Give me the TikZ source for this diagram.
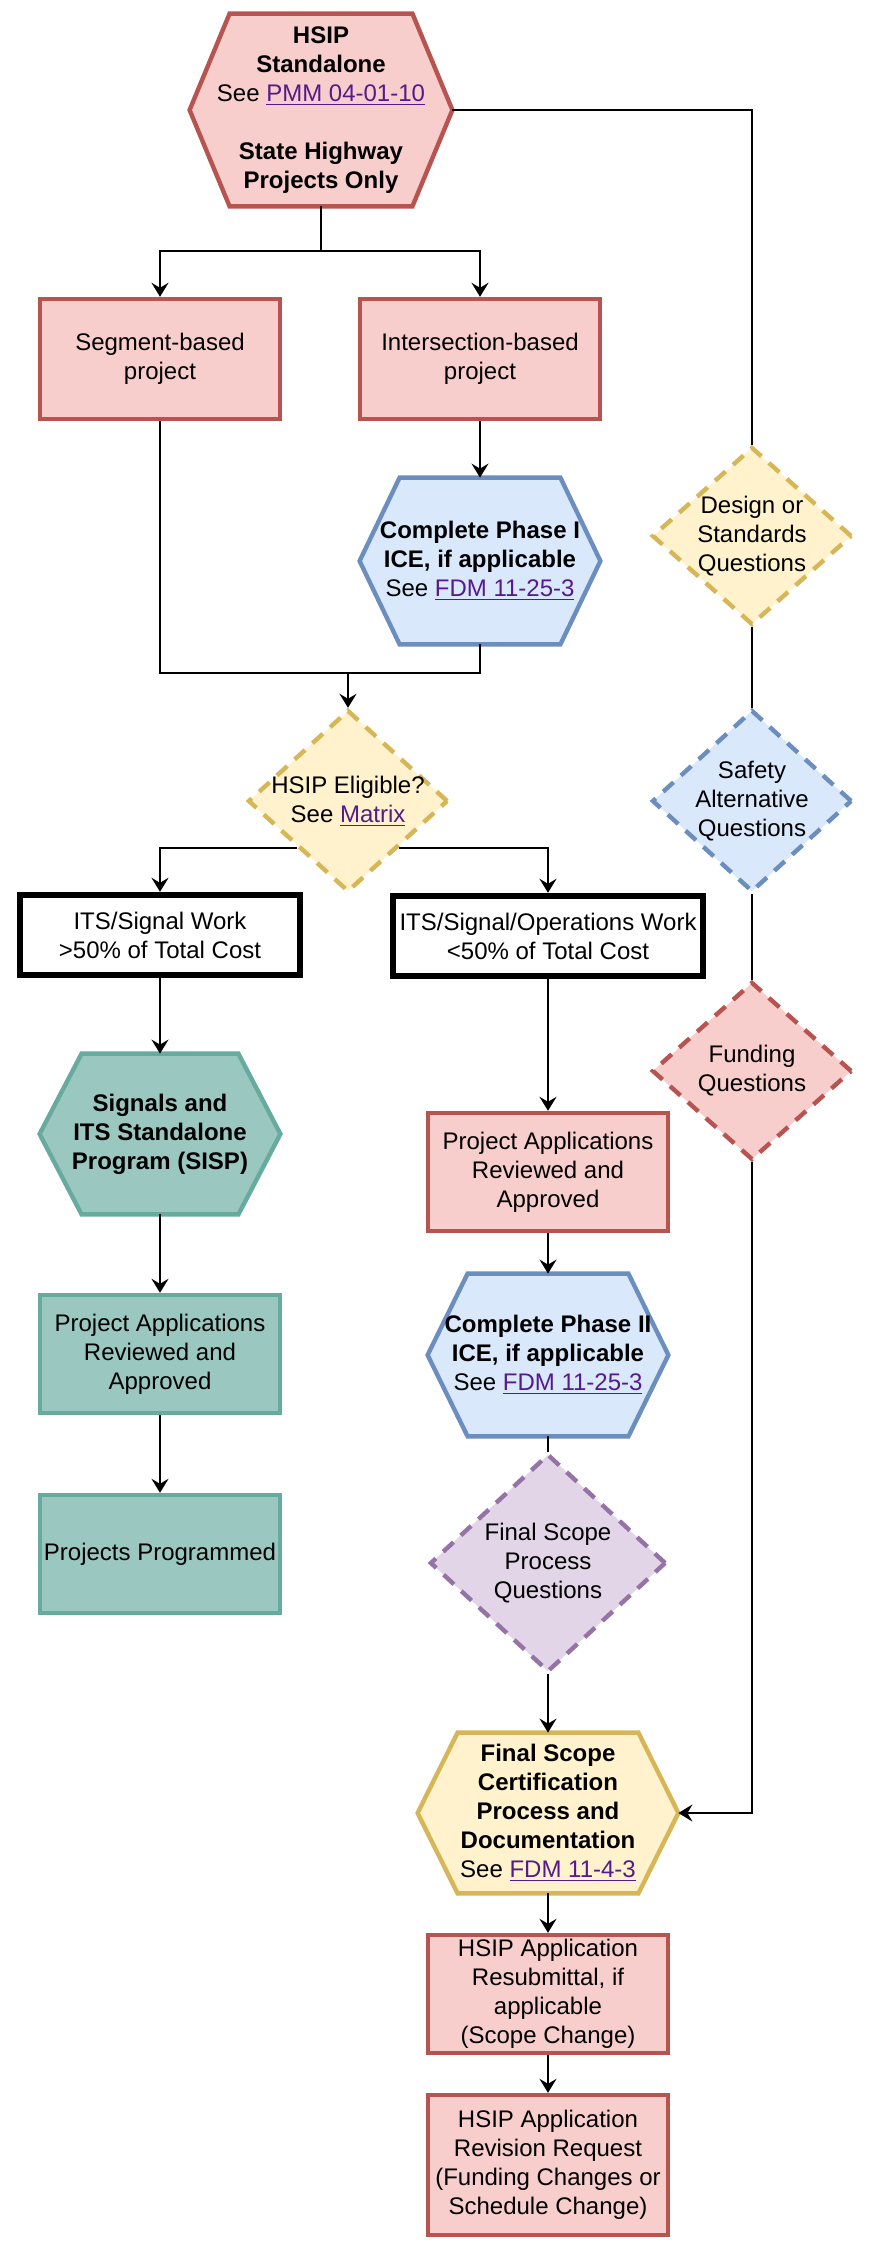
\documentclass[tikz,border=0pt]{standalone}
\usepackage{fontspec}
\setmainfont{Liberation Sans}
\usetikzlibrary{shapes.geometric,arrows.meta,backgrounds}

\definecolor{redfill}{HTML}{F8CECC}
\definecolor{redline}{HTML}{B85450}
\definecolor{bluefill}{HTML}{DAE8FC}
\definecolor{blueline}{HTML}{6C8EBF}
\definecolor{yelfill}{HTML}{FFF2CC}
\definecolor{yelline}{HTML}{D6B656}
\definecolor{purfill}{HTML}{E1D5E7}
\definecolor{purline}{HTML}{9673A6}
\definecolor{grnfill}{HTML}{9AC7BF}
\definecolor{grnline}{HTML}{67AB9F}
\definecolor{linkc}{HTML}{551A8B}

\newcommand{\lnk}[1]{\textcolor{linkc}{\underline{#1}}}
% hexagon round a named node: name, inset, style
\newcommand{\hexdraw}[3]{\draw[#3] ([xshift=#2]#1.north west) -- ([xshift=-#2]#1.north east) -- (#1.east) -- ([xshift=-#2]#1.south east) -- ([xshift=#2]#1.south west) -- (#1.west) -- cycle;}

\begin{document}
\begin{tikzpicture}[x=0.5pt,y=-0.5pt,
    every node/.style={font=\fontsize{12}{14.5}\selectfont, align=center, inner sep=2pt},
    box/.style={rectangle, line width=2.2pt, minimum width=120pt, minimum height=59pt},
    redbox/.style={box, draw=redline, fill=redfill},
    grnbox/.style={box, draw=grnline, fill=grnfill},
    blkbox/.style={rectangle, draw=black, line width=3.2pt, fill=white, minimum height=40pt},
    hexa/.style={minimum width=120pt, inner sep=0pt},
    redhex/.style={draw=redline, fill=redfill, line width=2.2pt},
    bluehex/.style={draw=blueline, fill=bluefill, line width=2.2pt},
    grnhex/.style={draw=grnline, fill=grnfill, line width=2.2pt},
    yelhex/.style={draw=yelline, fill=yelfill, line width=2.2pt},
    qdiam/.style={diamond, dash pattern=on 7pt off 5pt, line width=2.2pt, minimum width=100pt, minimum height=90pt, inner sep=-6pt},
    line/.style={line width=1pt},
    arr/.style={line, -{Stealth[length=7pt,width=8.5pt,inset=2.5pt]}}
]
\useasboundingbox (0,0) rectangle (871,2246);

% left and middle column
\node[hexa, minimum width=131pt, minimum height=96pt] (hsip) at (321,110)
    {\textbf{HSIP}\\\textbf{Standalone}\\See \lnk{PMM 04-01-10}\\[14.5pt]\textbf{State Highway}\\\textbf{Projects Only}};
\node[redbox, minimum height=60pt] (seg) at (160,359) {Segment-based\\project};
\node[redbox, minimum height=60pt] (inter) at (480,359) {Intersection-based\\project};
\node[hexa, minimum height=83pt] (ph1) at (480,561)
    {\textbf{Complete Phase I}\\\textbf{ICE, if applicable}\\See \lnk{FDM 11-25-3}};
\node[qdiam, draw=yelline, fill=yelfill, minimum height=91pt] (elig) at (348,801) {HSIP Eligible?\\See \lnk{Matrix}};
\node[blkbox, minimum width=140pt] (its1) at (160,935) {ITS/Signal Work\\>50\% of Total Cost};
\node[blkbox, minimum width=155pt] (its2) at (548,936) {ITS/Signal/Operations Work\\<50\% of Total Cost};
\node[hexa, minimum height=80pt] (sisp) at (160,1134)
    {\textbf{Signals and}\\\textbf{ITS Standalone}\\\textbf{Program (SISP)}};
\node[grnbox] (papg) at (160,1354) {Project Applications\\Reviewed and\\Approved};
\node[grnbox] (progd) at (160,1554) {Projects Programmed};
\node[redbox] (papr) at (548,1172) {Project Applications\\Reviewed and\\Approved};
\node[hexa, minimum height=81pt] (ph2) at (548,1355)
    {\textbf{Complete Phase II}\\\textbf{ICE, if applicable}\\See \lnk{FDM 11-25-3}};
\node[qdiam, draw=purline, fill=purfill, minimum width=118pt, minimum height=109pt] (fsq) at (548,1563)
    {Final Scope\\Process\\Questions};
\node[hexa, minimum width=130pt, minimum height=80pt] (fcert) at (548,1813)
    {\textbf{Final Scope}\\\textbf{Certification}\\\textbf{Process and}\\\textbf{Documentation}\\See \lnk{FDM 11-4-3}};
\node[redbox] (resub) at (548,1994) {HSIP Application\\Resubmittal, if\\applicable\\(Scope Change)};
\node[redbox, minimum height=70pt] (revis) at (548,2165) {HSIP Application\\Revision Request\\(Funding Changes or\\Schedule Change)};

% right column
\node[qdiam, draw=yelline, fill=yelfill, minimum height=89pt] (design) at (752,536) {Design or\\Standards\\Questions};
\node[qdiam, draw=blueline, fill=bluefill, minimum height=91pt] (safety) at (752,801) {Safety\\Alternative\\Questions};
\node[qdiam, draw=redline, fill=redfill, minimum height=89pt] (funding) at (752,1071) {Funding\\Questions};

\begin{scope}[on background layer]
    \hexdraw{hsip}{20pt}{redhex}
    \hexdraw{ph1}{20pt}{bluehex}
    \hexdraw{sisp}{21pt}{grnhex}
    \hexdraw{ph2}{20pt}{bluehex}
    \hexdraw{fcert}{20pt}{yelhex}
\end{scope}

% connectors
\coordinate (split) at (321,251);
\coordinate (merge) at (348,673);
\draw[line] (hsip.south) -- (split);
\draw[arr] (split) -| (seg.north);
\draw[arr] (split) -| (inter.north);
\draw[arr] (inter.south) -- (ph1.north);
\draw[line] (seg.south) |- (merge);
\draw[line] (ph1.south) |- (merge);
\draw[arr] (merge) -- (elig.north);
\draw[arr] (elig.south west) -| (its1.north);
\draw[arr] (elig.south east) -| (its2.north);
\draw[arr] (its1.south) -- (sisp.north);
\draw[arr] (sisp.south) -- (papg.north);
\draw[arr] (papg.south) -- (progd.north);
\draw[arr] (its2.south) -- (papr.north);
\draw[arr] (papr.south) -- (ph2.north);
\draw[line] (ph2.south) -- (fsq.north);
\draw[arr] (fsq.south) -- (fcert.north);
\draw[arr] (fcert.south) -- (resub.north);
\draw[arr] (resub.south) -- (revis.north);
\draw[line] (hsip.east) -| (design.north);
\draw[line] (design.south) -- (safety.north);
\draw[line] (safety.south) -- (funding.north);
\draw[arr] (funding.south) |- (fcert.east);
\end{tikzpicture}
\end{document}
